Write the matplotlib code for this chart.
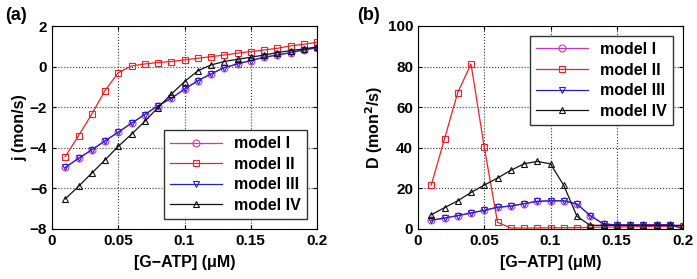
import numpy as np
import matplotlib
matplotlib.use("Agg")
import matplotlib.pyplot as plt

plt.rcParams['font.family'] = ['Liberation Sans', 'DejaVu Sans']
plt.rcParams['font.weight'] = 'bold'
plt.rcParams['axes.labelweight'] = 'bold'

# [G-ATP] in uM
conc = [0.01, 0.02, 0.03, 0.04, 0.05, 0.06, 0.07, 0.08, 0.09, 0.10,
        0.11, 0.12, 0.13, 0.14, 0.15, 0.16, 0.17, 0.18, 0.19, 0.20]

# flux j (mon/s)
j_model2 = [-4.43, -3.41, -2.34, -1.18, -0.30, 0.03, 0.13, 0.20, 0.25, 0.33,
            0.41, 0.49, 0.57, 0.66, 0.74, 0.82, 0.90, 1.02, 1.10, 1.20]
j_model3 = [-4.97, -4.52, -4.10, -3.66, -3.23, -2.79, -2.36, -1.93, -1.56, -1.11,
            -0.70, -0.36, -0.05, 0.13, 0.30, 0.46, 0.57, 0.69, 0.82, 0.93]
j_model1 = list(j_model3)
j_model4 = [-6.52, -5.90, -5.25, -4.60, -3.93, -3.33, -2.70, -2.02, -1.36, -0.74,
            -0.21, 0.08, 0.25, 0.36, 0.46, 0.57, 0.69, 0.79, 0.87, 0.97]

# diffusion D (mon^2/s)
d_model2 = [21.6, 44.4, 67.2, 81.3, 40.3, 3.3, 0.5, 0.5, 0.5, 0.6,
            0.6, 0.7, 0.8, 0.9, 1.0, 1.1, 1.2, 1.3, 1.4, 1.5]
d_model3 = [4.3, 5.4, 6.6, 7.9, 9.2, 10.7, 11.3, 12.5, 13.6, 13.9,
            13.9, 12.3, 6.6, 2.5, 2.0, 2.0, 2.0, 2.0, 2.0, 0.3]
d_model1 = list(d_model3)
d_model4 = [7.0, 10.5, 13.9, 18.0, 21.6, 25.1, 28.9, 32.1, 33.3, 32.1,
            21.5, 6.2, 1.8, 1.8, 1.8, 1.8, 1.8, 1.8, 1.8, 1.8]

labels = ['model I', 'model II', 'model III', 'model IV']
colors = ['#cc33cc', '#ee2222', '#2222cc', '#111111']
markers = ['o', 's', 'v', '^']

fig = plt.figure(figsize=(6.97, 2.79), dpi=100)
ax1 = fig.add_axes([52 / 697, 1 - 229 / 279, 265 / 697, 203 / 279])
ax2 = fig.add_axes([418 / 697, 1 - 229 / 279, 265 / 697, 203 / 279])


def draw(ax, series):
    for ys, lab, c, m in zip(series, labels, colors, markers):
        ax.plot(conc, ys, color=c, marker=m, markersize=5, markerfacecolor='none',
                markeredgewidth=0.8, linewidth=0.9, label=lab)
    ax.set_xlim(0, 0.2)
    ax.set_xticks([0, 0.05, 0.1, 0.15, 0.2])
    ax.set_xticklabels(['0', '0.05', '0.1', '0.15', '0.2'])
    ax.grid(True, linestyle=':', color='#333333', linewidth=0.8)
    ax.tick_params(direction='in', labelsize=11, length=3, top=True, right=True)
    for s in ax.spines.values():
        s.set_linewidth(0.8)
    ax.set_xlabel('[G\u2212ATP] (\u03bcM)', fontsize=11.5, labelpad=5)


draw(ax1, [j_model1, j_model2, j_model3, j_model4])
ax1.set_ylim(-8, 2)
ax1.set_yticks([-8, -6, -4, -2, 0, 2])
ax1.set_ylabel('j (mon/s)', fontsize=11.5, labelpad=2)
ax1.legend(loc='lower right', fontsize=11.5, fancybox=False, edgecolor='#333333',
           framealpha=1, handlelength=3.2, borderaxespad=0.6, labelspacing=0.35)

draw(ax2, [d_model1, d_model2, d_model3, d_model4])
ax2.set_ylim(0, 100)
ax2.set_yticks([0, 20, 40, 60, 80, 100])
ax2.set_ylabel('D (mon$^2$/s)', fontsize=11.5, labelpad=2)
ax2.legend(loc='upper right', fontsize=11.5, fancybox=False, edgecolor='#333333',
           framealpha=1, handlelength=3.2, borderaxespad=0.6, labelspacing=0.35)

fig.text(5 / 697, 1 - 15 / 279, '(a)', fontsize=13, fontweight='bold', va='center')
fig.text(357 / 697, 1 - 16 / 279, '(b)', fontsize=13, fontweight='bold', va='center')

fig.savefig('out.png', dpi=100)
